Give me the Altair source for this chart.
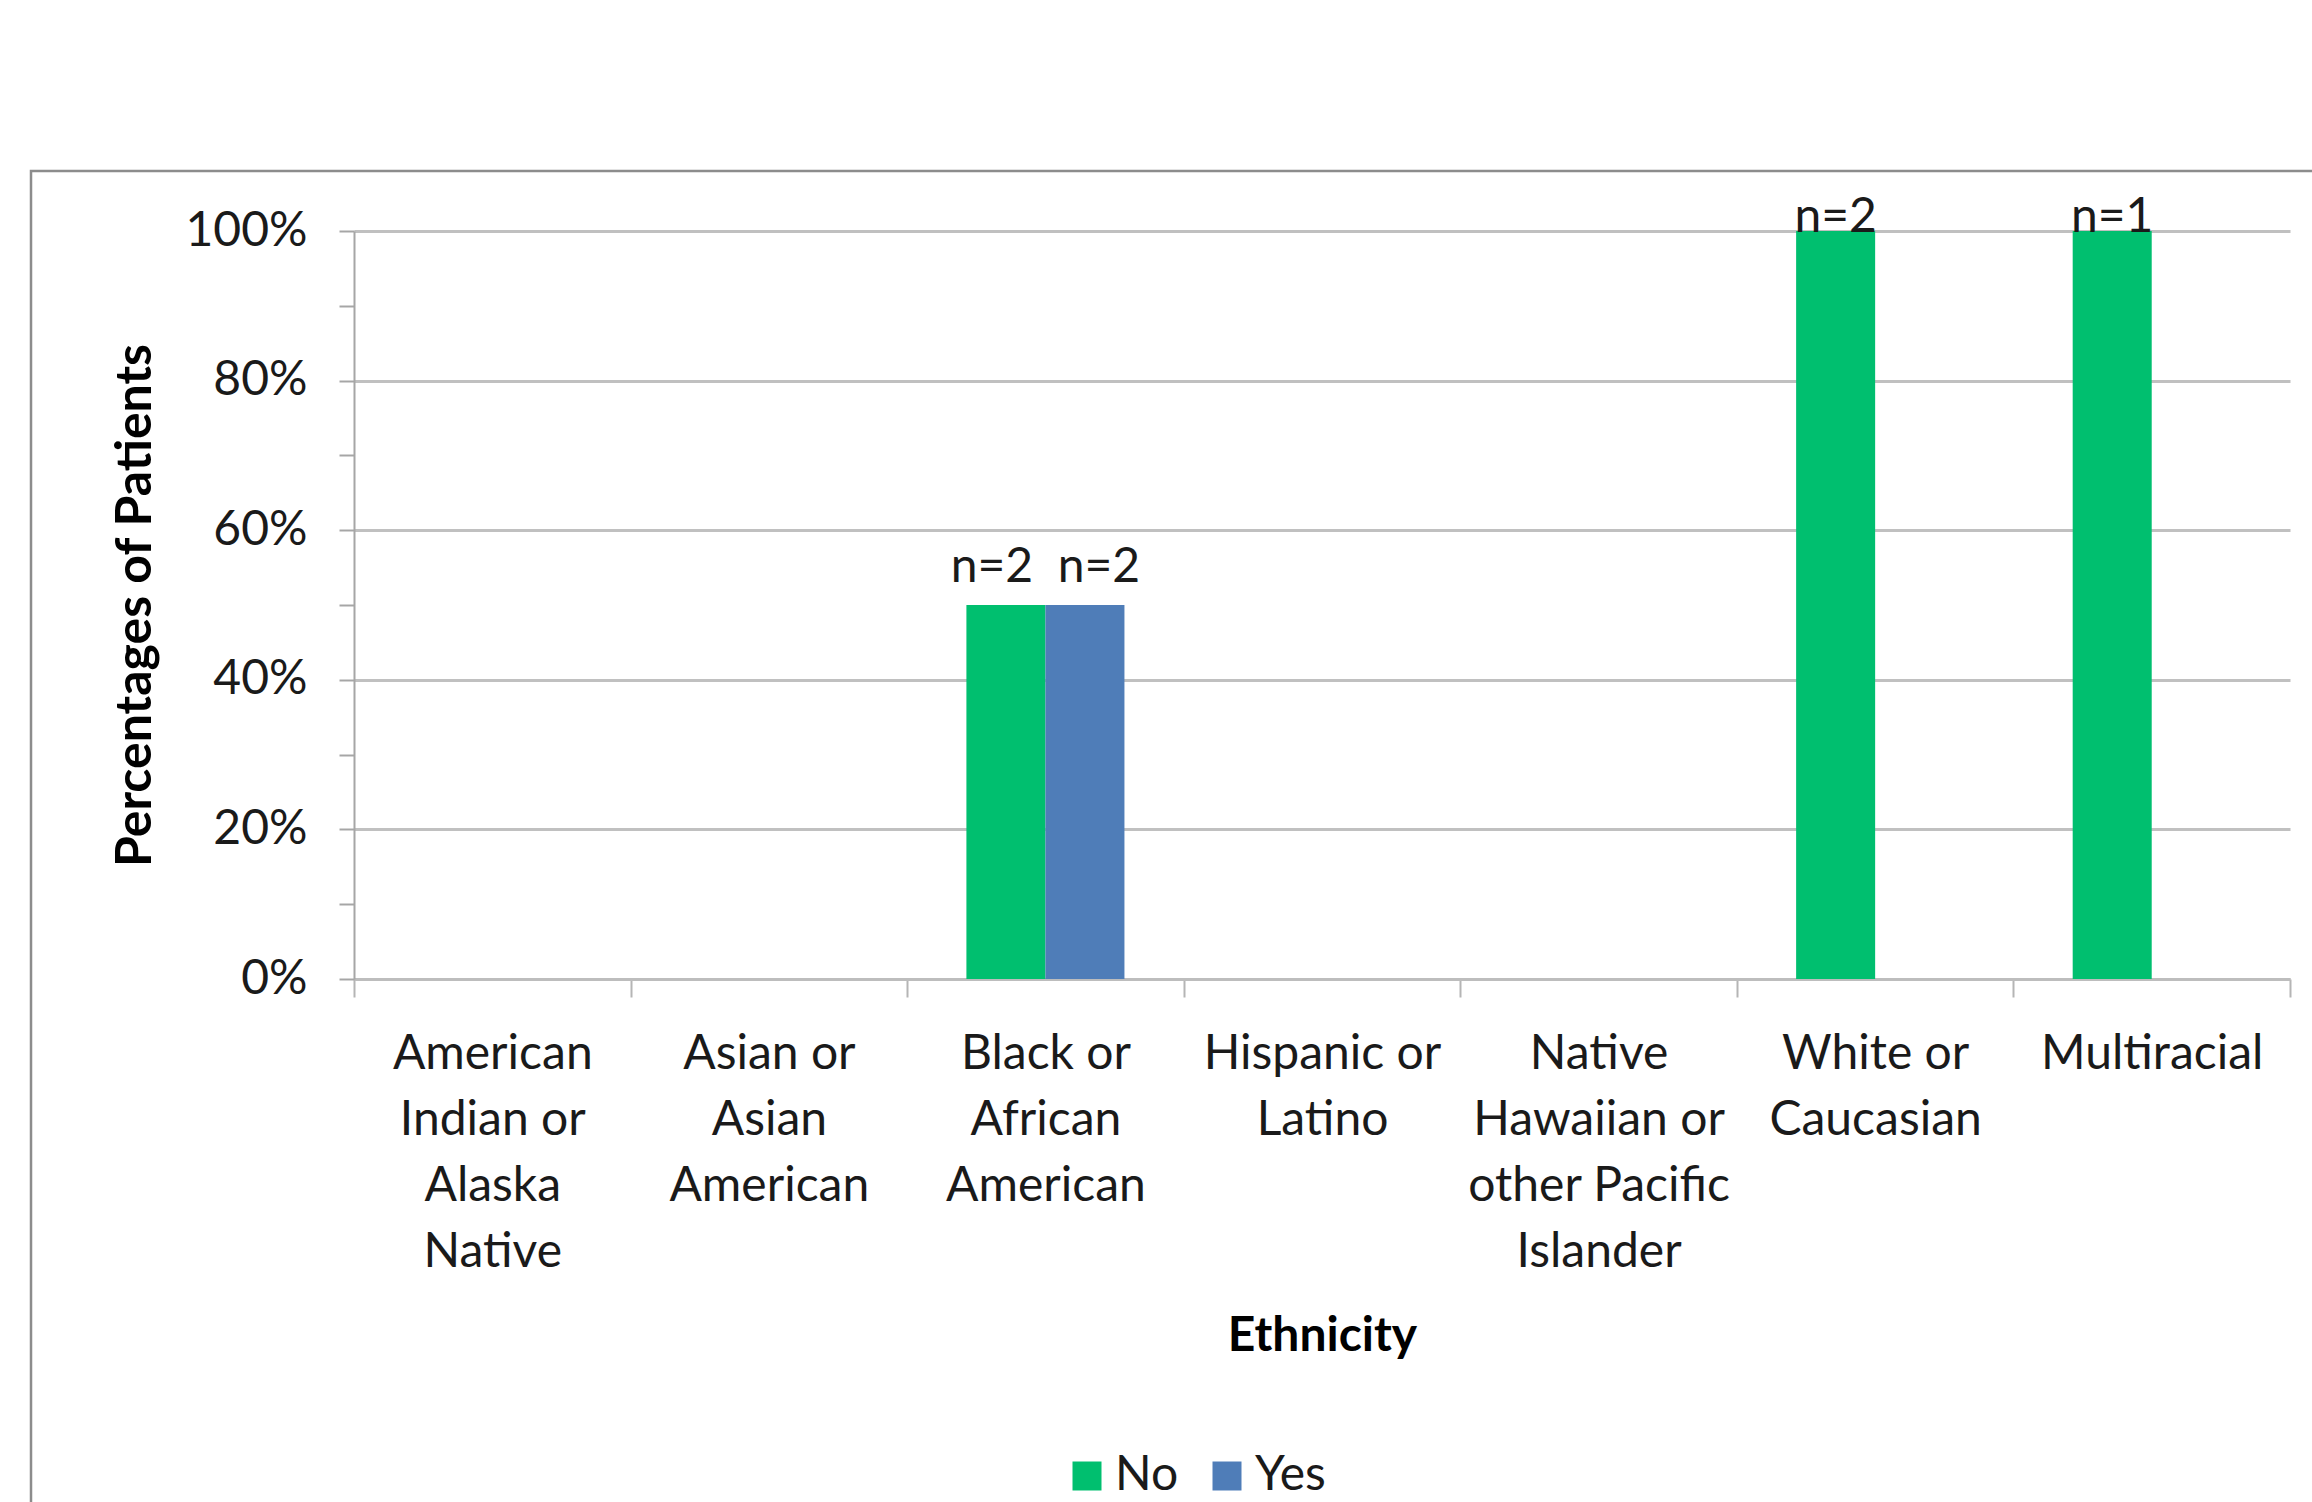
import json
import altair as alt
import pandas as pd

# ---- data ----
categories = [
    "American Indian or Alaska Native",
    "Asian or Asian American",
    "Black or African American",
    "Hispanic or Latino",
    "Native Hawaiian or other Pacific Islander",
    "White or Caucasian",
    "Multiracial",
]
category_lines = [
    ["American", "Indian or", "Alaska", "Native"],
    ["Asian or", "Asian", "American"],
    ["Black or", "African", "American"],
    ["Hispanic or", "Latino"],
    ["Native", "Hawaiian or", "other Pacific", "Islander"],
    ["White or", "Caucasian"],
    ["Multiracial"],
]
series = ["No", "Yes"]
no_pct = [0.0, 0.0, 0.5, 0.0, 0.0, 1.0, 1.0]
yes_pct = [0.0, 0.0, 0.5, 0.0, 0.0, 0.0, 0.0]
no_n = [0, 0, 2, 0, 0, 2, 1]
yes_n = [0, 0, 2, 0, 0, 0, 0]
colors = ["#00BF6F", "#4F7DB8"]
y_tick_values = [0.0, 0.1, 0.2, 0.3, 0.4, 0.5, 0.6, 0.7, 0.8, 0.9, 1.0]

rows = []
for i, c in enumerate(categories):
    rows.append({"cat": c, "series": "No", "pct": no_pct[i], "n": no_n[i]})
    rows.append({"cat": c, "series": "Yes", "pct": yes_pct[i], "n": yes_n[i]})
df = pd.DataFrame(rows)

label_expr = "''"
for cat, lines in reversed(list(zip(categories, category_lines))):
    label_expr = f"datum.value === {json.dumps(cat)} ? {json.dumps(lines)} : ({label_expr})"

FONT = "Lato"
TXT = "#1a1a1a"

x_enc = alt.X(
    "cat:N",
    sort=categories,
    scale=alt.Scale(domain=categories, paddingInner=0, paddingOuter=0),
    axis=alt.Axis(
        title="Ethnicity",
        titleFont=FONT,
        titleFontSize=48,
        titleFontWeight="bold",
        titleColor="#000000",
        titleBaseline="alphabetic",
        titleY=371,
        labelExpr=label_expr,
        labelAngle=0,
        labelAlign="center",
        labelBaseline="top",
        labelPadding=33,
        labelLineHeight=66,
        labelFont=FONT,
        labelFontSize=48,
        labelColor=TXT,
        labelLimit=500,
        labelOverlap=False,
        ticks=True,
        tickBand="extent",
        tickSize=18,
        tickColor="#b5b5b5",
        tickWidth=2,
        domainColor="#bdbdbd",
        domainWidth=3,
        grid=False,
    ),
)
xoff_enc = alt.XOffset(
    "series:N",
    sort=series,
    scale=alt.Scale(domain=series, paddingInner=0, paddingOuter=0.75),
)
y_enc = alt.Y(
    "pct:Q",
    scale=alt.Scale(domain=[0, 1], nice=False),
    axis=alt.Axis(
        title="Percentages of Patients",
        titleFont=FONT,
        titleFontSize=50,
        titleFontWeight="bold",
        titleColor="#000000",
        titleAngle=270,
        titleBaseline="alphabetic",
        titleAlign="center",
        titleX=-204,
        titleY=374,
        values=y_tick_values,
        labelExpr="round(datum.value * 10) % 2 === 0 ? format(datum.value, '.0%') : ''",
        labelFont=FONT,
        labelFontSize=48,
        labelColor=TXT,
        labelPadding=32,
        labelOverlap=False,
        tickSize=15,
        tickColor="#a6a6a6",
        tickWidth=2,
        domainColor="#a6a6a6",
        domainWidth=2,
        grid=True,
        gridColor="#c0c0c0",
        gridWidth=3,
        gridOpacity={"condition": {"test": "round(datum.value * 10) % 2 !== 0", "value": 0}, "value": 1},
    ),
)
color_enc = alt.Color(
    "series:N",
    sort=series,
    scale=alt.Scale(domain=series, range=colors),
    legend=alt.Legend(
        title=None,
        orient="none",
        legendX=709,
        legendY=1221,
        direction="horizontal",
        symbolType="square",
        symbolSize=841,
        symbolStrokeWidth=0,
        labelFont=FONT,
        labelFontSize=48,
        labelColor=TXT,
        labelOffset=4,
        columnPadding=24,
        padding=0,
    ),
)

frame = alt.Chart(alt.Data(values=[{"f": 1}])).mark_rect(
    fillOpacity=0, stroke="#8c8c8c", strokeWidth=2.5
).encode(
    x=alt.value(-323), x2=alt.value(1990), y=alt.value(-60), y2=alt.value(1300)
)

bars = alt.Chart(df).mark_bar().encode(
    x=x_enc, xOffset=xoff_enc, y=y_enc, color=color_enc
)

labels = alt.Chart(df).transform_filter("datum.n > 0").transform_joinaggregate(
    nlab="count()", groupby=["cat"]
).transform_calculate(
    pct="min(datum.pct, 0.968)", label="'n=' + datum.n"
).mark_text(
    baseline="alphabetic",
    align="center",
    dy=-23,
    dx=alt.expr("datum.nlab > 1 ? (datum.series === 'No' ? -14 : 14) : 0"),
    fontSize=48,
    font=FONT,
    color=TXT,
).encode(
    x=alt.X("cat:N", sort=categories),
    xOffset=alt.XOffset("series:N", sort=series),
    y=alt.Y("pct:Q"),
    text="label:N",
)

chart = alt.layer(frame, bars, labels).properties(
    width=1936,
    height=748,
    padding={"left": 354, "top": 231, "right": 22, "bottom": 523},
    autosize=alt.AutoSizeParams(type="none"),
    background="white",
).configure_view(stroke="transparent")

chart.save("out.html", embed_options={"renderer": "svg", "actions": False})
